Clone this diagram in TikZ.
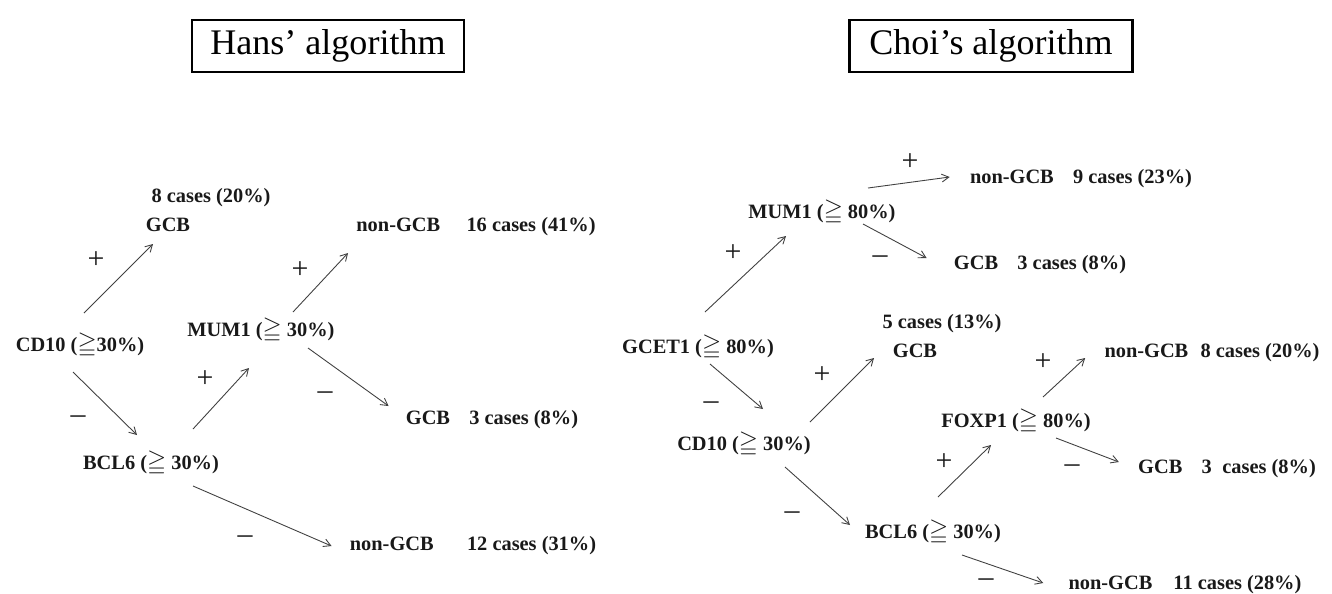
\documentclass[tikz,border=0pt]{standalone}
\usepackage{fontspec}
\usepackage{amssymb}
\setmainfont{Liberation Serif}
\usetikzlibrary{arrows.meta}

\newcommand{\geqsign}{{\fontsize{14}{14}\selectfont$\geqq$}}

\begin{document}
\begin{tikzpicture}[x=0.02cm, y=-0.02cm,
    >={Straight Barb[length=4pt,width=4.5pt]},
    algobox/.style = {rectangle, draw=black, line width=1.2pt,
                      minimum width=5.44cm, minimum height=1.04cm,
                      font=\fontsize{20.5}{24}\selectfont},
    lbl/.style = {inner sep=0pt, text height=7.7pt, text depth=0pt,
                  font=\fontsize{11.6}{14}\selectfont\bfseries, text=black!90},
    sgn/.style = {inner sep=0pt, font=\fontsize{17}{18}\selectfont, text=black!90},
    neg/.style = {sgn, text height=7.7pt, text depth=0pt},
    arr/.style = {->, black!75, line width=0.5pt}]
  \fill[white] (0,0) rectangle (1332,593);
  \useasboundingbox (0,0) rectangle (1332,593);

  % Hans
  \node (hans) [algobox] at (328,46) {Hans’ algorithm};
  \node (cases8A) [lbl] at (211,196) {8 cases (20\%)};
  \node (gcbA) [lbl] at (168,225) {GCB};
  \node (ngcb16A) [lbl] at (476,225) {non-GCB\hspace{15pt}16 cases (41\%)};
  \node (cd10A) [lbl] at (80,345) {CD10 (\geqsign30\%)};
  \node (mum1A) [lbl] at (261,330) {MUM1 (\geqsign\ 30\%)};
  \node (gcb3A) [lbl] at (492,418) {GCB\hspace{11pt}3 cases (8\%)};
  \node (bcl6A) [lbl] at (151,463) {BCL6 (\geqsign\ 30\%)};
  \node (ngcb12A) [lbl] at (473,544) {non-GCB\hspace{19pt}12 cases (31\%)};

  \node (plusA1) [sgn] at (96,260) {+};
  \node (plusA2) [sgn] at (300,270) {+};
  \node (plusA3) [sgn] at (205,379) {+};
  \node (minusA1) [neg] at (78,417) {–};
  \node (minusA2) [neg] at (325,393) {–};
  \node (minusA3) [neg] at (245,537) {–};

  \path[arr]
    ([shift={(4,-32)}]cd10A.center) edge ([shift={(-15,19)}]gcbA.center)
    ([shift={(32,-18)}]mum1A.center) edge ([shift={(-8,28)}]ngcb16A.west)
    ([shift={(42,-34)}]bcl6A.center) edge ([shift={(-12,38)}]mum1A.center)
    ([shift={(47,18)}]mum1A.center) edge ([shift={(-17,-12)}]gcb3A.west)
    ([shift={(-7,27)}]cd10A.center) edge ([shift={(-14,-28)}]bcl6A.center)
    ([shift={(42,23)}]bcl6A.center) edge ([shift={(-18,2)}]ngcb12A.west);

  % Choi
  \node (choi) [algobox, minimum width=5.66cm] at (991,46) {Choi’s algorithm};
  \node (ngcb9B) [lbl] at (1081,177) {non-GCB\hspace{11pt}9 cases (23\%)};
  \node (mum1B) [lbl] at (822,212) {MUM1 (\geqsign\ 80\%)};
  \node (gcb3B) [lbl] at (1040,263) {GCB\hspace{11pt}3 cases (8\%)};
  \node (cases5B) [lbl] at (942,322) {5 cases (13\%)};
  \node (gcbB) [lbl] at (915,351) {GCB};
  \node (gcet1B) [lbl] at (698,347) {GCET1 (\geqsign\ 80\%)};
  \node (ngcb8B) [lbl] at (1212,351) {non-GCB\hspace{7pt}8 cases (20\%)};
  \node (foxp1B) [lbl] at (1016,421) {FOXP1 (\geqsign\ 80\%)};
  \node (cd10B) [lbl] at (744,444) {CD10 (\geqsign\ 30\%)};
  \node (gcb3cB) [lbl] at (1227,467) {GCB\hspace{11pt}3\hspace{6pt}cases (8\%)};
  \node (bcl6B) [lbl] at (933,532) {BCL6 (\geqsign\ 30\%)};
  \node (ngcb11B) [lbl] at (1185,583) {non-GCB\hspace{12pt}11 cases (28\%)};

  \node (plusB1) [sgn] at (910,162) {+};
  \node (plusB2) [sgn] at (733,253) {+};
  \node (plusB3) [sgn] at (822,375) {+};
  \node (plusB4) [sgn] at (1043,362) {+};
  \node (plusB5) [sgn] at (944,462) {+};
  \node (minusB1) [neg] at (880,257) {–};
  \node (minusB2) [neg] at (711,403) {–};
  \node (minusB3) [neg] at (1072,466) {–};
  \node (minusB4) [neg] at (792,513) {–};
  \node (minusB5) [neg] at (986,580) {–};

  \path[arr]
    ([shift={(46,-24)}]mum1B.center) edge ([shift={(-20,0)}]ngcb9B.west)
    ([shift={(41,12)}]mum1B.center) edge ([shift={(-27,-5)}]gcb3B.west)
    ([shift={(7,-35)}]gcet1B.center) edge ([shift={(-36,24)}]mum1B.center)
    ([shift={(12,17)}]gcet1B.center) edge ([shift={(19,-35)}]cd10B.center)
    ([shift={(66,-22)}]cd10B.center) edge ([shift={(-41,7)}]gcbB.center)
    ([shift={(27,-24)}]foxp1B.center) edge ([shift={(-19,7)}]ngcb8B.west)
    ([shift={(40,17)}]foxp1B.center) edge ([shift={(-19,-5)}]gcb3cB.west)
    ([shift={(5,-35)}]bcl6B.center) edge ([shift={(-25,24)}]foxp1B.center)
    ([shift={(41,23)}]cd10B.center) edge ([shift={(-83,-7)}]bcl6B.center)
    ([shift={(29,23)}]bcl6B.center) edge ([shift={(-25,0)}]ngcb11B.west);
\end{tikzpicture}
\end{document}
